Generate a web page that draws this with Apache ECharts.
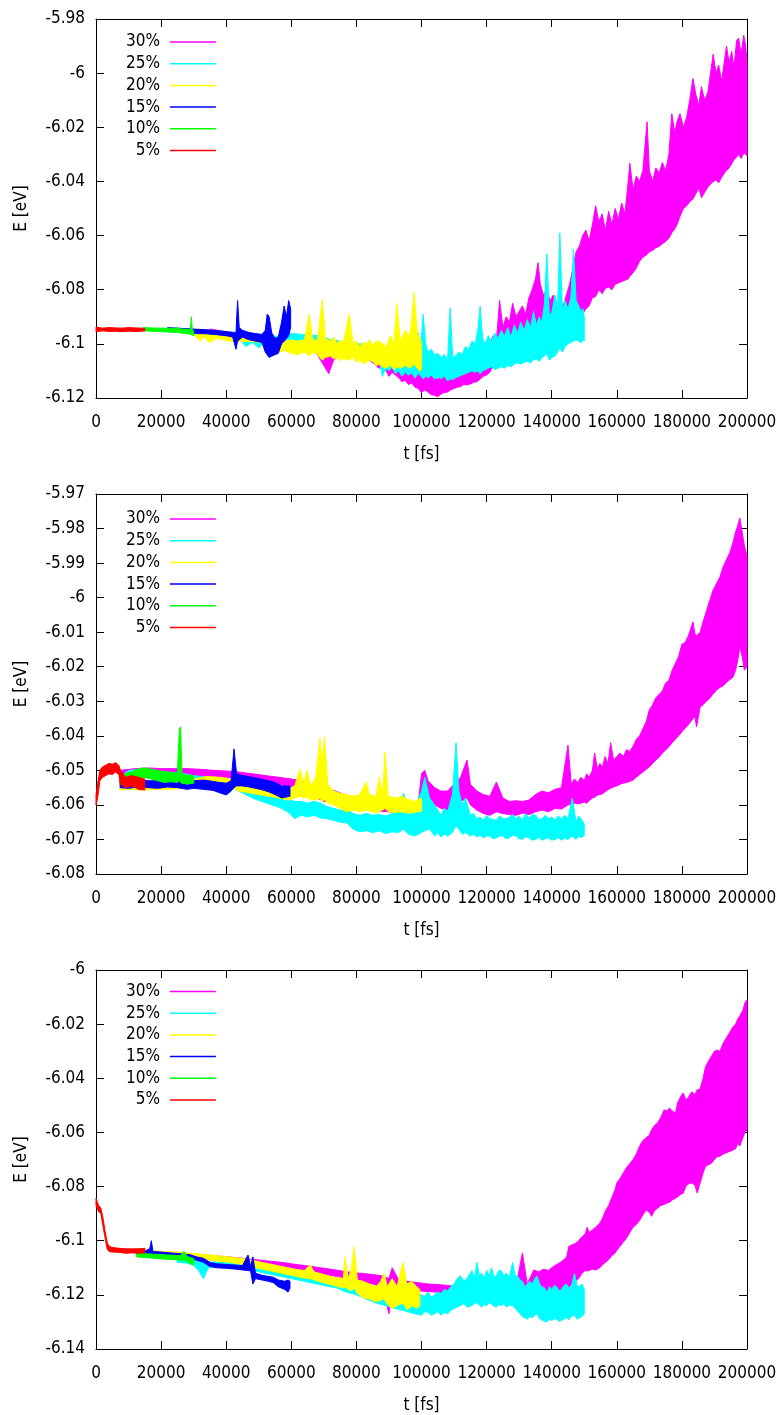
<!DOCTYPE html>
<html>
<head>
<meta charset="utf-8">
<script src="https://cdn.jsdelivr.net/npm/echarts@6/dist/echarts.min.js"></script>
<style>
  html, body { margin: 0; padding: 0; background: #ffffff; }
  #chart { width: 782px; height: 1415px; }
</style>
</head>
<body>
<div id="chart"></div>
<script>
// Energy per atom E [eV] vs simulation time t [fs] for six concentrations,
// three independent runs (one panel each). Each row is [t, lowest E, highest E]
// of the fluctuating trace around that time.

const seriesNames = ['30%', '25%', '20%', '15%', '10%', '5%'];
const xTicks = { min: 0, max: 200000, step: 20000 };
const yTicks = [
  { min: -6.12, max: -5.98, step: 0.02 },
  { min: -6.08, max: -5.97, step: 0.01 },
  { min: -6.14, max: -6.00, step: 0.02 }
];

// ---------- panel 1 ----------
const p1_30 = [[35000,-6.0960,-6.0945],[40000,-6.0970,-6.0955],[45000,-6.0980,-6.0960],[50000,-6.0990,-6.0970],[55000,-6.1000,-6.0975],[60000,-6.1005,-6.0980],[64000,-6.1010,-6.0985],[68000,-6.1040,-6.0990],[70000,-6.1080,-6.1000],[71500,-6.1110,-6.1010],[73000,-6.1060,-6.1000],[76000,-6.1030,-6.1000],[80000,-6.1040,-6.1005],
  [84000,-6.1060,-6.1020],[85500,-6.1075,-6.1025],[87000,-6.1090,-6.1035],[88500,-6.1085,-6.1030],[90000,-6.1120,-6.1050],[91000,-6.1105,-6.1055],[92000,-6.1115,-6.1060],[93000,-6.1125,-6.1065],[94000,-6.1140,-6.1070],[95000,-6.1135,-6.1080],[96000,-6.1150,-6.1080],[97000,-6.1145,-6.1090],[98000,-6.1160,-6.1100],[99000,-6.1165,-6.1095],[100000,-6.1180,-6.1110],[101000,-6.1170,-6.1115],[102000,-6.1178,-6.1120],[103000,-6.1188,-6.1118],[104000,-6.1190,-6.1126],[105000,-6.1195,-6.1130],[106000,-6.1185,-6.1122],[107000,-6.1180,-6.1120],[108000,-6.1178,-6.1110],[109000,-6.1170,-6.1100],[110000,-6.1165,-6.1105],[111000,-6.1160,-6.1095],[112000,-6.1158,-6.1092],[113000,-6.1150,-6.1090],[114000,-6.1152,-6.1082],[115000,-6.1148,-6.1080],[116000,-6.1142,-6.1075],[117000,-6.1140,-6.1068],[118000,-6.1130,-6.1060],[119000,-6.1120,-6.1050],[120000,-6.1115,-6.1030],
  [121000,-6.1105,-6.1000],[122000,-6.1080,-6.0970],[123000,-6.1085,-6.0990],[124000,-6.1060,-6.0840],[125000,-6.1065,-6.0940],[126000,-6.1050,-6.0900],[127000,-6.1055,-6.0920],[128000,-6.1040,-6.0850],[129000,-6.1045,-6.0900],[130000,-6.1020,-6.0880],[131000,-6.1030,-6.0860],[132000,-6.1010,-6.0890],[133000,-6.1000,-6.0830],[134000,-6.0990,-6.0800],[135000,-6.0975,-6.0760],[135800,-6.0970,-6.0700],[136500,-6.0980,-6.0780],[137500,-6.0970,-6.0820],[138500,-6.0985,-6.0800],[139500,-6.0990,-6.0840],[140500,-6.1000,-6.0820],[141500,-6.1005,-6.0880],[142500,-6.0995,-6.0840],[143500,-6.1000,-6.0860],[144500,-6.0990,-6.0820],[145500,-6.0975,-6.0780],[146500,-6.0920,-6.0720],[147500,-6.0880,-6.0660],[148500,-6.0900,-6.0640],[149500,-6.0890,-6.0600],[150500,-6.0870,-6.0580],[151500,-6.0860,-6.0620],[152500,-6.0830,-6.0560],[153500,-6.0825,-6.0490],[154500,-6.0800,-6.0550],[155500,-6.0815,-6.0520],[156500,-6.0795,-6.0580],[157500,-6.0790,-6.0510],[158500,-6.0800,-6.0560],[159500,-6.0780,-6.0500],[160500,-6.0775,-6.0540],[161500,-6.0770,-6.0480],[162500,-6.0765,-6.0520],[163500,-6.0760,-6.0400],[164000,-6.0750,-6.0333],[165000,-6.0737,-6.0430],[166000,-6.0720,-6.0380],[167000,-6.0695,-6.0400],[168000,-6.0680,-6.0360],[169300,-6.0670,-6.0180],[170000,-6.0660,-6.0360],[171000,-6.0655,-6.0400],[172000,-6.0645,-6.0350],[173000,-6.0640,-6.0370],[174000,-6.0630,-6.0330],[175000,-6.0622,-6.0360],[176000,-6.0610,-6.0300],[176900,-6.0590,-6.0150],[177800,-6.0575,-6.0220],[178500,-6.0560,-6.0180],[179400,-6.0530,-6.0150],[180500,-6.0500,-6.0200],[181500,-6.0490,-6.0160],[182400,-6.0475,-6.0100],[183400,-6.0465,-6.0020],[184300,-6.0445,-6.0080],[185200,-6.0425,-6.0120],[186000,-6.0460,-6.0050],[187000,-6.0440,-6.0100],[188000,-6.0420,-6.0070],[188800,-6.0410,-6.0000],[189600,-6.0400,-5.9930],[190500,-6.0395,-6.0000],[191300,-6.0405,-5.9970],[192200,-6.0385,-6.0030],[193000,-6.0370,-5.9960],[193700,-6.0360,-5.9900],[194500,-6.0350,-5.9960],[195300,-6.0335,-5.9920],[196000,-6.0320,-5.9980],[196800,-6.0310,-5.9880],[197400,-6.0300,-5.9870],[198200,-6.0315,-5.9930],[199000,-6.0295,-5.9860],[199600,-6.0300,-5.9900],[200000,-6.0305,-5.9960]];
const p1_25 = [[28000,-6.0955,-6.0945],[32000,-6.0958,-6.0948],[36000,-6.0962,-6.0950],[40000,-6.0966,-6.0955],[44000,-6.0975,-6.0960],[46000,-6.1010,-6.0965],[48000,-6.0995,-6.0968],[50000,-6.1015,-6.0970],[52000,-6.0990,-6.0970],[56000,-6.0990,-6.0972],[58000,-6.0985,-6.0960],[60000,-6.0990,-6.0962],[63000,-6.0995,-6.0965],[66000,-6.0998,-6.0968],[69000,-6.1000,-6.0970],[72000,-6.1010,-6.0985],[75000,-6.1020,-6.0990],[78000,-6.1030,-6.0995],[81000,-6.1040,-6.1000],[84000,-6.1050,-6.1005],
  [86000,-6.1080,-6.1010],[87000,-6.1060,-6.1015],[88000,-6.1120,-6.1020],[89000,-6.1090,-6.1010],[90000,-6.1100,-6.1005],[91000,-6.1085,-6.1010],[92000,-6.1110,-6.1000],[93000,-6.1100,-6.1015],[94000,-6.1120,-6.1010],[95000,-6.1105,-6.1020],[96000,-6.1115,-6.1015],[97000,-6.1108,-6.1030],[98000,-6.1126,-6.1026],[99000,-6.1110,-6.0960],[99800,-6.1118,-6.1010],[100500,-6.1130,-6.0890],[101300,-6.1120,-6.1000],[102000,-6.1125,-6.1030],[103000,-6.1115,-6.1020],[104000,-6.1130,-6.1040],[105000,-6.1122,-6.1035],[106000,-6.1128,-6.1050],[107000,-6.1120,-6.1040],[108000,-6.1137,-6.1060],[108800,-6.1130,-6.0867],[109600,-6.1132,-6.1050],[110500,-6.1125,-6.1045],[111500,-6.1120,-6.1030],[112500,-6.1115,-6.1040],[113500,-6.1110,-6.1010],[114500,-6.1105,-6.1020],[115500,-6.1100,-6.0990],[116500,-6.1105,-6.1000],[117300,-6.1100,-6.0950],[118000,-6.1110,-6.0860],[118800,-6.1100,-6.0980],[119600,-6.1095,-6.1000],[120500,-6.1090,-6.0970],[121500,-6.1085,-6.0990],[122500,-6.1095,-6.0960],[123500,-6.1090,-6.0980],[124500,-6.1085,-6.0950],[125500,-6.1090,-6.0970],[126500,-6.1080,-6.0940],[127500,-6.1085,-6.0975],[128500,-6.1074,-6.0930],[129500,-6.1070,-6.0960],[130500,-6.1075,-6.0920],[131500,-6.1068,-6.0950],[132500,-6.1065,-6.0910],[133500,-6.1070,-6.0940],[134400,-6.1060,-6.0880],[135300,-6.1055,-6.0930],[136200,-6.1065,-6.0900],[137000,-6.1050,-6.0920],[137800,-6.1045,-6.0850],[138500,-6.1035,-6.0667],[139300,-6.1060,-6.0900],[140100,-6.1050,-6.0880],[141000,-6.1045,-6.0820],[141800,-6.1030,-6.0870],[142500,-6.1015,-6.0590],[143300,-6.1030,-6.0880],[144100,-6.1010,-6.0840],[145000,-6.1000,-6.0870],[145900,-6.0995,-6.0830],[146700,-6.0990,-6.0650],[147500,-6.0985,-6.0840],[148300,-6.0990,-6.0860],[149000,-6.0996,-6.0880],[149600,-6.0985,-6.0870],[150000,-6.0990,-6.0900]];
const p1_20 = [[30000,-6.0965,-6.0950],[32000,-6.0990,-6.0945],[33000,-6.0975,-6.0950],[35000,-6.0995,-6.0952],[37000,-6.0980,-6.0955],[39000,-6.0985,-6.0958],[41000,-6.0990,-6.0960],[43000,-6.0995,-6.0963],[45000,-6.0990,-6.0965],[48000,-6.0992,-6.0968],[51000,-6.0995,-6.0970],[54000,-6.1000,-6.0975],[56000,-6.1030,-6.0985],[58000,-6.1025,-6.0990],[60000,-6.1035,-6.0985],[62000,-6.1040,-6.0990],[64000,-6.1030,-6.0985],[65500,-6.1045,-6.0890],[66500,-6.1030,-6.0980],[68000,-6.1040,-6.0990],[69500,-6.1060,-6.0837],[70500,-6.1050,-6.0980],[72000,-6.1045,-6.0990],[73000,-6.1055,-6.0975],[74000,-6.1050,-6.1000],[75000,-6.1062,-6.0985],[76000,-6.1055,-6.0995],[77800,-6.1060,-6.0890],[79000,-6.1050,-6.1000],[80000,-6.1068,-6.0990],[81000,-6.1060,-6.1010],[82000,-6.1072,-6.0995],[83000,-6.1070,-6.1000],[84000,-6.1060,-6.0985],[85000,-6.1065,-6.1005],[86000,-6.1080,-6.0990],[87000,-6.1075,-6.0990],[88000,-6.1085,-6.1000],[89000,-6.1090,-6.1010],[90500,-6.1080,-6.0970],[91500,-6.1095,-6.1000],[92400,-6.1085,-6.0850],[93500,-6.1090,-6.0990],[95000,-6.1080,-6.0950],[96500,-6.1090,-6.0970],[97700,-6.1075,-6.0810],[98700,-6.1090,-6.0960],[99500,-6.1100,-6.0980],[100000,-6.1095,-6.1000]];
const p1_15 = [[22000,-6.0950,-6.0940],[25000,-6.0955,-6.0942],[28000,-6.0958,-6.0944],[31000,-6.0962,-6.0946],[34000,-6.0963,-6.0948],[37000,-6.0966,-6.0951],[40000,-6.0970,-6.0955],[42000,-6.0975,-6.0958],[43000,-6.1020,-6.0960],[43500,-6.0990,-6.0840],[44000,-6.0985,-6.0940],[45000,-6.0975,-6.0950],[47000,-6.0985,-6.0958],[49000,-6.0990,-6.0962],[51000,-6.0995,-6.0965],[52000,-6.1030,-6.0950],[52600,-6.1040,-6.0890],[53200,-6.1050,-6.0900],[54000,-6.1045,-6.0960],[55000,-6.1040,-6.0980],[56000,-6.1035,-6.0975],[57000,-6.1000,-6.0920],[57800,-6.0990,-6.0860],[58500,-6.0980,-6.0900],[59200,-6.0970,-6.0840],[59800,-6.0940,-6.0870]];
const p1_10 = [[14500,-6.0952,-6.0940],[17000,-6.0953,-6.0941],[20000,-6.0955,-6.0942],[22000,-6.0956,-6.0942],[24000,-6.0958,-6.0943],[25000,-6.0957,-6.0940],[26000,-6.0960,-6.0945],[28000,-6.0962,-6.0946],[29000,-6.0965,-6.0947],[29300,-6.0966,-6.0900],[29600,-6.0968,-6.0950],[30000,-6.0970,-6.0952]];
const p1_5 = [[0,-6.0955,-6.0938],[2000,-6.0952,-6.0942],[4000,-6.0954,-6.0940],[6000,-6.0953,-6.0941],[8000,-6.0955,-6.0942],[10000,-6.0953,-6.0940],[12000,-6.0954,-6.0941],[14000,-6.0953,-6.0942],[15000,-6.0952,-6.0943]];

// ---------- panel 2 ----------
const p2_30 = [[7400,-6.0520,-6.0500],[12000,-6.0515,-6.0495],[16000,-6.0515,-6.0493],[20000,-6.0520,-6.0495],[24000,-6.0518,-6.0495],[28000,-6.0520,-6.0495],[32000,-6.0520,-6.0497],[36000,-6.0522,-6.0500],[40000,-6.0525,-6.0502],[44000,-6.0528,-6.0505],[48000,-6.0530,-6.0510],[52000,-6.0535,-6.0515],[56000,-6.0540,-6.0520],[60000,-6.0548,-6.0525],[63000,-6.0555,-6.0530],[66000,-6.0570,-6.0540],[68000,-6.0580,-6.0550],[70000,-6.0590,-6.0560],[72000,-6.0586,-6.0555],[75000,-6.0595,-6.0565],[78000,-6.0605,-6.0575],[81000,-6.0610,-6.0585],[84000,-6.0612,-6.0590],[87000,-6.0618,-6.0595],[90000,-6.0620,-6.0598],[93000,-6.0622,-6.0600],[96000,-6.0624,-6.0600],[99000,-6.0620,-6.0595],[100000,-6.0600,-6.0510],[101000,-6.0595,-6.0500],[102000,-6.0590,-6.0530],[104000,-6.0600,-6.0550],[106000,-6.0610,-6.0560],[108000,-6.0615,-6.0560],[110000,-6.0600,-6.0540],[112000,-6.0590,-6.0520],[114000,-6.0580,-6.0470],[115000,-6.0600,-6.0540],[117000,-6.0615,-6.0560],[119000,-6.0625,-6.0570],[121000,-6.0630,-6.0575],[123000,-6.0620,-6.0534],[125000,-6.0625,-6.0580],[127000,-6.0628,-6.0590],[129000,-6.0630,-6.0588],[131000,-6.0624,-6.0590],[133000,-6.0628,-6.0586],[135000,-6.0620,-6.0570],[137000,-6.0615,-6.0560],[139000,-6.0620,-6.0565],[141000,-6.0610,-6.0555],[143000,-6.0612,-6.0550],
  [145000,-6.0600,-6.0427],[146000,-6.0598,-6.0540],[147000,-6.0595,-6.0525],[148000,-6.0597,-6.0535],[149000,-6.0595,-6.0520],[150000,-6.0592,-6.0530],[150700,-6.0595,-6.0510],[151500,-6.0588,-6.0520],[152500,-6.0580,-6.0500],[153200,-6.0578,-6.0450],[154000,-6.0572,-6.0495],[154800,-6.0570,-6.0480],[155600,-6.0568,-6.0490],[156400,-6.0562,-6.0460],[157300,-6.0556,-6.0480],[158100,-6.0552,-6.0420],[159000,-6.0548,-6.0470],[160000,-6.0545,-6.0460],[161000,-6.0540,-6.0450],[162000,-6.0537,-6.0460],[163000,-6.0535,-6.0440],[164000,-6.0532,-6.0445],[165000,-6.0528,-6.0430],[166000,-6.0520,-6.0410],[167000,-6.0512,-6.0400],[168000,-6.0505,-6.0380],[169000,-6.0497,-6.0360],[170000,-6.0490,-6.0325],[171000,-6.0480,-6.0310],[172000,-6.0470,-6.0290],[173000,-6.0462,-6.0280],[174000,-6.0450,-6.0270],[175000,-6.0441,-6.0247],[176000,-6.0432,-6.0240],[177000,-6.0420,-6.0210],[178000,-6.0410,-6.0190],[179000,-6.0400,-6.0170],[180000,-6.0388,-6.0135],[181000,-6.0378,-6.0130],[182000,-6.0368,-6.0110],[183400,-6.0350,-6.0070],[184000,-6.0345,-6.0105],[184500,-6.0374,-6.0110],[185600,-6.0317,-6.0100],[186500,-6.0310,-6.0070],[187500,-6.0300,-6.0040],[188500,-6.0292,-6.0010],[189500,-6.0280,-5.9980],[190700,-6.0267,-5.9958],[191700,-6.0260,-5.9940],[192700,-6.0255,-5.9910],[193700,-6.0245,-5.9890],[194700,-6.0238,-5.9870],[195700,-6.0230,-5.9840],[196500,-6.0210,-5.9810],[197200,-6.0180,-5.9790],[197800,-6.0142,-5.9770],[198500,-6.0170,-5.9810],[199200,-6.0210,-5.9850],[200000,-6.0200,-5.9880]];
const p2_25 = [[7400,-6.0540,-6.0520],[10000,-6.0525,-6.0500],[14000,-6.0520,-6.0497],[18000,-6.0525,-6.0500],[22000,-6.0528,-6.0505],[26000,-6.0530,-6.0508],[30000,-6.0535,-6.0515],[34000,-6.0540,-6.0520],[38000,-6.0545,-6.0522],[42000,-6.0552,-6.0530],[45000,-6.0565,-6.0540],[48000,-6.0580,-6.0552],[51000,-6.0590,-6.0560],[54000,-6.0600,-6.0570],[57000,-6.0610,-6.0575],[59600,-6.0625,-6.0585],[61000,-6.0640,-6.0590],[63000,-6.0630,-6.0590],[65000,-6.0635,-6.0595],[67000,-6.0630,-6.0590],[69000,-6.0638,-6.0595],[71000,-6.0640,-6.0605],[73000,-6.0645,-6.0610],[75000,-6.0650,-6.0615],[77000,-6.0652,-6.0610],[79000,-6.0670,-6.0625],[81000,-6.0678,-6.0630],[83000,-6.0675,-6.0625],[85000,-6.0680,-6.0630],[87000,-6.0675,-6.0628],[89000,-6.0683,-6.0632],[91000,-6.0678,-6.0625],[93000,-6.0680,-6.0620],[94500,-6.0670,-6.0566],[96000,-6.0685,-6.0620],[98000,-6.0690,-6.0610],[100000,-6.0680,-6.0560],[101000,-6.0675,-6.0520],[102500,-6.0670,-6.0580],[104000,-6.0690,-6.0600],[105000,-6.0680,-6.0615],[106000,-6.0693,-6.0630],[107000,-6.0685,-6.0610],[108000,-6.0690,-6.0620],[109500,-6.0680,-6.0570],[110600,-6.0660,-6.0420],[111500,-6.0670,-6.0560],[112500,-6.0685,-6.0600],[113500,-6.0680,-6.0580],[115000,-6.0690,-6.0630],[116000,-6.0685,-6.0625],[117000,-6.0693,-6.0640],[118000,-6.0688,-6.0635],[119000,-6.0695,-6.0645],[120000,-6.0690,-6.0630],[121000,-6.0690,-6.0640],[122000,-6.0698,-6.0642],[123000,-6.0695,-6.0645],[124000,-6.0690,-6.0632],[125000,-6.0690,-6.0640],[126000,-6.0698,-6.0640],[127000,-6.0695,-6.0635],[128000,-6.0688,-6.0628],[129000,-6.0690,-6.0640],[130000,-6.0697,-6.0632],[131000,-6.0700,-6.0645],[132000,-6.0692,-6.0625],[133000,-6.0695,-6.0638],[134000,-6.0702,-6.0628],[135000,-6.0700,-6.0630],[136000,-6.0694,-6.0642],[137000,-6.0702,-6.0640],[138000,-6.0698,-6.0630],[139000,-6.0695,-6.0640],[140000,-6.0702,-6.0635],[141000,-6.0700,-6.0645],[142000,-6.0695,-6.0632],[143000,-6.0702,-6.0640],[144000,-6.0696,-6.0630],[145000,-6.0700,-6.0640],[146300,-6.0690,-6.0580],[147500,-6.0700,-6.0650],[148300,-6.0690,-6.0632],[149000,-6.0695,-6.0640],[150000,-6.0688,-6.0655]];
const p2_20 = [[7400,-6.0557,-6.0530],[10000,-6.0555,-6.0535],[14000,-6.0557,-6.0537],[18000,-6.0555,-6.0535],[22000,-6.0555,-6.0535],[26000,-6.0552,-6.0532],[30000,-6.0548,-6.0525],[34000,-6.0540,-6.0518],[38000,-6.0545,-6.0520],[42000,-6.0550,-6.0525],[44000,-6.0560,-6.0535],[47000,-6.0565,-6.0540],[50000,-6.0570,-6.0545],[53000,-6.0575,-6.0548],[56000,-6.0580,-6.0550],[59000,-6.0586,-6.0555],[61000,-6.0580,-6.0545],[62700,-6.0575,-6.0497],[63800,-6.0580,-6.0540],[64800,-6.0578,-6.0500],[66000,-6.0585,-6.0545],[67500,-6.0586,-6.0520],[68800,-6.0580,-6.0406],[69500,-6.0590,-6.0480],[70200,-6.0585,-6.0403],[71200,-6.0595,-6.0540],[73000,-6.0600,-6.0560],[75000,-6.0610,-6.0566],[77000,-6.0620,-6.0570],[79000,-6.0615,-6.0575],[81000,-6.0620,-6.0570],[83000,-6.0615,-6.0534],[84000,-6.0618,-6.0570],[86000,-6.0622,-6.0575],[87000,-6.0620,-6.0520],[88000,-6.0615,-6.0570],[88800,-6.0610,-6.0447],[89800,-6.0620,-6.0575],[92000,-6.0622,-6.0580],[94000,-6.0620,-6.0575],[96000,-6.0624,-6.0585],[98000,-6.0622,-6.0590],[100000,-6.0618,-6.0580]];
const p2_15 = [[7400,-6.0550,-6.0530],[10000,-6.0552,-6.0530],[13000,-6.0548,-6.0528],[16000,-6.0550,-6.0530],[19000,-6.0552,-6.0530],[22000,-6.0548,-6.0528],[25000,-6.0550,-6.0530],[28000,-6.0555,-6.0532],[30000,-6.0552,-6.0530],[33000,-6.0555,-6.0528],[36000,-6.0558,-6.0532],[38000,-6.0565,-6.0535],[40000,-6.0571,-6.0537],[41500,-6.0560,-6.0530],[42400,-6.0550,-6.0438],[43200,-6.0545,-6.0510],[45000,-6.0545,-6.0515],[47000,-6.0548,-6.0518],[49000,-6.0552,-6.0522],[51000,-6.0556,-6.0526],[53000,-6.0562,-6.0530],[55000,-6.0570,-6.0535],[57000,-6.0580,-6.0545],[59600,-6.0575,-6.0545]];
const p2_10 = [[7400,-6.0540,-6.0515],[9000,-6.0535,-6.0510],[11000,-6.0530,-6.0505],[13000,-6.0525,-6.0495],[15000,-6.0520,-6.0493],[17000,-6.0525,-6.0497],[19000,-6.0530,-6.0500],[21000,-6.0535,-6.0505],[23000,-6.0533,-6.0505],[25000,-6.0535,-6.0510],[25600,-6.0530,-6.0380],[26000,-6.0535,-6.0374],[26400,-6.0537,-6.0510],[28000,-6.0540,-6.0515],[30000,-6.0537,-6.0515]];
const p2_5 = [[0,-6.0600,-6.0570],[500,-6.0580,-6.0540],[1200,-6.0530,-6.0500],[2000,-6.0520,-6.0490],[3000,-6.0515,-6.0485],[4000,-6.0510,-6.0480],[5000,-6.0512,-6.0482],[6000,-6.0505,-6.0478],[7000,-6.0512,-6.0485],[7500,-6.0540,-6.0500],[9000,-6.0550,-6.0520],[11000,-6.0545,-6.0515],[13000,-6.0555,-6.0520],[15000,-6.0557,-6.0525]];

// ---------- panel 3 ----------
const p3_30 = [[17000,-6.1055,-6.1040],[21000,-6.1057,-6.1042],[25000,-6.1060,-6.1045],[29000,-6.1063,-6.1048],[33000,-6.1068,-6.1052],[37000,-6.1072,-6.1056],[41000,-6.1077,-6.1060],[45000,-6.1082,-6.1065],[49000,-6.1088,-6.1070],[53000,-6.1095,-6.1075],[57000,-6.1100,-6.1080],[61000,-6.1107,-6.1087],[65000,-6.1115,-6.1093],[69000,-6.1122,-6.1100],[73000,-6.1130,-6.1107],[77000,-6.1138,-6.1115],[81000,-6.1150,-6.1120],[85000,-6.1160,-6.1125],[88000,-6.1170,-6.1130],[90000,-6.1270,-6.1140],[91000,-6.1180,-6.1100],[93000,-6.1175,-6.1145],[96000,-6.1180,-6.1150],[99000,-6.1185,-6.1155],[102000,-6.1188,-6.1160],[105000,-6.1190,-6.1162],[108000,-6.1195,-6.1165],[111000,-6.1200,-6.1170],[114000,-6.1205,-6.1175],[117000,-6.1210,-6.1180],[120000,-6.1215,-6.1180],[123000,-6.1212,-6.1180],[126000,-6.1215,-6.1178],[129000,-6.1210,-6.1170],[131000,-6.1200,-6.1045],[132500,-6.1215,-6.1160],
  [134500,-6.1207,-6.1108],[136000,-6.1205,-6.1115],[137500,-6.1207,-6.1105],[139000,-6.1200,-6.1110],[140500,-6.1203,-6.1095],[142000,-6.1198,-6.1085],[142700,-6.1195,-6.1080],[143700,-6.1192,-6.1070],[144600,-6.1190,-6.1060],[145300,-6.1170,-6.1020],[146300,-6.1160,-6.1015],[147300,-6.1150,-6.1010],[148300,-6.1140,-6.1000],[149300,-6.1120,-6.0985],[150300,-6.1110,-6.0975],[150900,-6.1112,-6.0950],[151500,-6.1110,-6.0970],[152500,-6.1105,-6.0960],[153500,-6.1108,-6.0950],[154800,-6.1100,-6.0935],[155500,-6.1090,-6.0920],[156500,-6.1080,-6.0890],[157500,-6.1070,-6.0870],[158500,-6.1055,-6.0840],[159500,-6.1045,-6.0810],[160000,-6.1035,-6.0787],[161000,-6.1020,-6.0770],[162000,-6.1005,-6.0750],[163000,-6.0990,-6.0730],[164000,-6.0970,-6.0715],[165000,-6.0950,-6.0700],[166000,-6.0940,-6.0680],[167000,-6.0925,-6.0650],[168000,-6.0905,-6.0630],[169000,-6.0887,-6.0620],[170000,-6.0895,-6.0610],[170700,-6.0910,-6.0590],[171500,-6.0890,-6.0575],[172500,-6.0880,-6.0565],[173500,-6.0870,-6.0545],[174500,-6.0866,-6.0517],[175400,-6.0861,-6.0520],[176200,-6.0858,-6.0510],[177000,-6.0850,-6.0520],[178000,-6.0843,-6.0530],[178700,-6.0838,-6.0490],[179500,-6.0830,-6.0470],[180400,-6.0824,-6.0454],[181200,-6.0800,-6.0480],[182000,-6.0790,-6.0470],[183000,-6.0787,-6.0450],[184000,-6.0795,-6.0460],[184700,-6.0824,-6.0443],[185600,-6.0787,-6.0440],[186500,-6.0750,-6.0400],[187200,-6.0727,-6.0360],[188000,-6.0720,-6.0340],[189000,-6.0715,-6.0320],[190000,-6.0700,-6.0300],[190700,-6.0690,-6.0296],[191700,-6.0688,-6.0300],[192700,-6.0680,-6.0270],[193700,-6.0675,-6.0250],[194700,-6.0670,-6.0230],[195700,-6.0665,-6.0210],[196500,-6.0660,-6.0200],[197200,-6.0640,-6.0180],[197800,-6.0650,-6.0170],[198700,-6.0620,-6.0150],[199400,-6.0600,-6.0120],[200000,-6.0590,-6.0110]];
const p3_25 = [[25000,-6.1080,-6.1065],[28000,-6.1083,-6.1068],[30000,-6.1090,-6.1072],[31500,-6.1110,-6.1075],[33000,-6.1140,-6.1080],[34500,-6.1100,-6.1080],[37000,-6.1095,-6.1078],[40000,-6.1098,-6.1080],[43000,-6.1100,-6.1083],[46000,-6.1105,-6.1087],[50000,-6.1115,-6.1095],[54000,-6.1125,-6.1105],[58000,-6.1135,-6.1115],[62000,-6.1145,-6.1125],[66000,-6.1155,-6.1135],[70000,-6.1165,-6.1140],[74000,-6.1175,-6.1150],[77000,-6.1190,-6.1150],[80000,-6.1200,-6.1160],[83000,-6.1215,-6.1165],[86000,-6.1230,-6.1175],[89000,-6.1240,-6.1185],[92000,-6.1250,-6.1190],[95000,-6.1260,-6.1195],[98000,-6.1270,-6.1200],[100000,-6.1275,-6.1200],[101000,-6.1262,-6.1205],[102000,-6.1265,-6.1190],[103000,-6.1275,-6.1208],[104000,-6.1270,-6.1200],[105000,-6.1262,-6.1190],[106000,-6.1275,-6.1195],[107000,-6.1265,-6.1180],[108000,-6.1270,-6.1185],[109000,-6.1258,-6.1170],[110000,-6.1250,-6.1160],[111000,-6.1245,-6.1140],[112000,-6.1240,-6.1130],[113000,-6.1232,-6.1150],[114000,-6.1245,-6.1140],[115500,-6.1240,-6.1110],[116300,-6.1230,-6.1140],[117000,-6.1230,-6.1080],[117800,-6.1238,-6.1130],[118500,-6.1245,-6.1120],[119300,-6.1235,-6.1140],[120000,-6.1240,-6.1110],[120800,-6.1228,-6.1130],[121500,-6.1235,-6.1100],[122300,-6.1242,-6.1135],[123000,-6.1245,-6.1130],[123800,-6.1236,-6.1110],[124500,-6.1240,-6.1110],[125300,-6.1232,-6.1130],[126000,-6.1245,-6.1120],[127000,-6.1238,-6.1135],[128000,-6.1240,-6.1080],[128800,-6.1250,-6.1130],[129500,-6.1260,-6.1130],[130300,-6.1270,-6.1145],[131000,-6.1280,-6.1150],[131800,-6.1285,-6.1170],[132500,-6.1290,-6.1160],[133300,-6.1280,-6.1150],[134000,-6.1285,-6.1160],[134800,-6.1275,-6.1140],[135500,-6.1270,-6.1130],[136300,-6.1288,-6.1160],[137000,-6.1293,-6.1170],[137800,-6.1298,-6.1175],[138500,-6.1300,-6.1190],[139300,-6.1290,-6.1170],[140000,-6.1295,-6.1180],[140800,-6.1288,-6.1165],[141500,-6.1290,-6.1170],[142300,-6.1298,-6.1185],[143000,-6.1295,-6.1180],[143800,-6.1288,-6.1165],[144500,-6.1285,-6.1160],[145300,-6.1292,-6.1175],[146000,-6.1280,-6.1170],[147000,-6.1275,-6.1120],[147800,-6.1290,-6.1165],[148500,-6.1285,-6.1170],[149300,-6.1280,-6.1160],[150000,-6.1270,-6.1180]];
const p3_20 = [[13000,-6.1050,-6.1035],[17000,-6.1052,-6.1037],[21000,-6.1055,-6.1040],[25000,-6.1058,-6.1042],[29000,-6.1062,-6.1046],[33000,-6.1068,-6.1050],[37000,-6.1075,-6.1055],[41000,-6.1080,-6.1060],[45000,-6.1088,-6.1066],[49000,-6.1100,-6.1075],[53000,-6.1110,-6.1085],[57000,-6.1120,-6.1095],[61000,-6.1130,-6.1105],[64000,-6.1138,-6.1110],[65800,-6.1140,-6.1090],[67000,-6.1145,-6.1115],[70000,-6.1155,-6.1125],[73000,-6.1165,-6.1135],[76000,-6.1175,-6.1140],[76500,-6.1170,-6.1060],[77500,-6.1180,-6.1140],[78500,-6.1185,-6.1100],[79300,-6.1175,-6.1023],[80300,-6.1195,-6.1145],[82000,-6.1210,-6.1150],[84000,-6.1215,-6.1160],[86000,-6.1225,-6.1170],[87500,-6.1220,-6.1150],[88500,-6.1215,-6.1120],[89500,-6.1235,-6.1170],[91000,-6.1250,-6.1140],[92500,-6.1240,-6.1170],[94300,-6.1230,-6.1080],[95500,-6.1256,-6.1160],[97000,-6.1240,-6.1150],[98500,-6.1250,-6.1170],[99500,-6.1240,-6.1180]];
const p3_15 = [[12500,-6.1050,-6.1035],[15000,-6.1052,-6.1038],[16500,-6.1050,-6.1030],[17000,-6.1045,-6.1000],[17500,-6.1052,-6.1040],[20000,-6.1055,-6.1042],[23000,-6.1058,-6.1045],[26000,-6.1062,-6.1048],[29000,-6.1066,-6.1052],[31000,-6.1072,-6.1060],[33000,-6.1080,-6.1065],[35000,-6.1095,-6.1080],[37000,-6.1100,-6.1085],[40000,-6.1102,-6.1088],[43000,-6.1105,-6.1090],[45000,-6.1108,-6.1092],[46700,-6.1110,-6.1053],[47500,-6.1112,-6.1095],[48200,-6.1160,-6.1060],[49000,-6.1140,-6.1120],[51000,-6.1145,-6.1128],[53000,-6.1150,-6.1132],[54500,-6.1155,-6.1135],[56000,-6.1170,-6.1145],[58000,-6.1180,-6.1150],[59000,-6.1190,-6.1145],[59600,-6.1175,-6.1150]];
const p3_10 = [[12500,-6.1060,-6.1045],[15000,-6.1062,-6.1048],[18000,-6.1065,-6.1050],[21000,-6.1068,-6.1052],[24000,-6.1070,-6.1054],[26000,-6.1072,-6.1055],[27000,-6.1072,-6.1040],[28000,-6.1078,-6.1058],[29000,-6.1085,-6.1062],[30000,-6.1090,-6.1065]];
const p3_5 = [[0,-6.0870,-6.0843],[800,-6.0893,-6.0870],[1500,-6.0900,-6.0880],[2200,-6.0950,-6.0920],[2800,-6.0990,-6.0965],[3400,-6.1030,-6.1005],[4000,-6.1040,-6.1020],[5000,-6.1042,-6.1025],[7000,-6.1043,-6.1028],[9000,-6.1046,-6.1030],[11000,-6.1045,-6.1030],[13000,-6.1046,-6.1030],[15000,-6.1045,-6.1028]];

const panels = [
  [p1_30, p1_25, p1_20, p1_15, p1_10, p1_5],
  [p2_30, p2_25, p2_20, p2_15, p2_10, p2_5],
  [p3_30, p3_25, p3_20, p3_15, p3_10, p3_5]
];

// ---------- styling ----------
const COLORS = ['#ff00ff', '#00ffff', '#ffff00', '#0000ff', '#00ff00', '#ff0000'];
const FONT = "'DejaVu Sans Condensed', 'DejaVu Sans', sans-serif";
const FS = 17;
const GRID_LEFT = 96, GRID_W = 651;
const GRID_TOPS = [19, 494, 970];
const GRID_H = [379, 380, 379];
const LEGEND_TOPS = [33.5, 510.5, 983];

const chart = echarts.init(document.getElementById('chart'), null, { renderer: 'canvas' });

// filled band between the low and high envelope of one trace
function bandRenderer(rows, color) {
  return function (params, api) {
    const upper = rows.map(r => api.coord([r[0], r[2]]));
    const lower = rows.map(r => api.coord([r[0], r[1]])).reverse();
    return {
      type: 'polygon',
      shape: { points: upper.concat(lower) },
      style: { fill: color, stroke: color, lineWidth: 1, lineJoin: 'round' }
    };
  };
}

const axisLine = { show: true, onZero: false, lineStyle: { color: '#000', width: 1 } };
const tick = { show: true, inside: true, length: 8, lineStyle: { color: '#000', width: 1 } };
const labelStyle = { color: '#000', fontFamily: FONT, fontSize: FS };

const grid = [], xAxis = [], yAxis = [], series = [], legend = [];

panels.forEach((rowsList, p) => {
  grid.push({ left: GRID_LEFT, top: GRID_TOPS[p], width: GRID_W, height: GRID_H[p], containLabel: false });
  const yt = yTicks[p];
  xAxis.push({
    type: 'value', gridIndex: p, position: 'bottom',
    min: xTicks.min, max: xTicks.max, interval: xTicks.step,
    axisLine, axisTick: tick, splitLine: { show: false },
    axisLabel: Object.assign({ margin: 16, formatter: v => String(v) }, labelStyle),
    name: 't [fs]', nameLocation: 'middle', nameGap: 48,
    nameTextStyle: { color: '#000', fontFamily: FONT, fontSize: FS }
  });
  xAxis.push({
    type: 'value', gridIndex: p, position: 'top',
    min: xTicks.min, max: xTicks.max, interval: xTicks.step,
    axisLine, axisTick: tick, splitLine: { show: false }, axisLabel: { show: false }
  });
  yAxis.push({
    type: 'value', gridIndex: p, position: 'left',
    min: yt.min, max: yt.max, interval: yt.step,
    axisLine, axisTick: tick, splitLine: { show: false },
    axisLabel: Object.assign({ margin: 11, formatter: v => String(+v.toFixed(2)) }, labelStyle),
    name: 'E [eV]', nameLocation: 'middle', nameGap: 66, nameRotate: 90,
    nameTextStyle: { color: '#000', fontFamily: FONT, fontSize: FS }
  });
  yAxis.push({
    type: 'value', gridIndex: p, position: 'right',
    min: yt.min, max: yt.max, interval: yt.step,
    axisLine, axisTick: tick, splitLine: { show: false }, axisLabel: { show: false }
  });

  rowsList.forEach((rows, k) => {
    series.push({
      type: 'custom',
      name: seriesNames[k],
      coordinateSystem: 'cartesian2d',
      xAxisIndex: 2 * p, yAxisIndex: 2 * p,
      data: [[rows[0][0], rows[0][1]]],
      itemStyle: { color: COLORS[k] },
      renderItem: bandRenderer(rows, COLORS[k]),
      silent: true,
      animation: false
    });
  });

  legend.push({
    orient: 'vertical', left: 126, top: LEGEND_TOPS[p], padding: 0,
    align: 'right', icon: 'rect', itemWidth: 46, itemHeight: 1.5, itemGap: 4.7,
    selectedMode: false,
    formatter: name => name + ' ',
    textStyle: { color: '#000', fontFamily: FONT, fontSize: FS },
    data: seriesNames.map((n, k) => ({ name: n, itemStyle: { color: COLORS[k] } }))
  });
});

chart.setOption({
  backgroundColor: '#ffffff',
  animation: false,
  grid, xAxis, yAxis, series, legend
});
</script>
</body>
</html>
